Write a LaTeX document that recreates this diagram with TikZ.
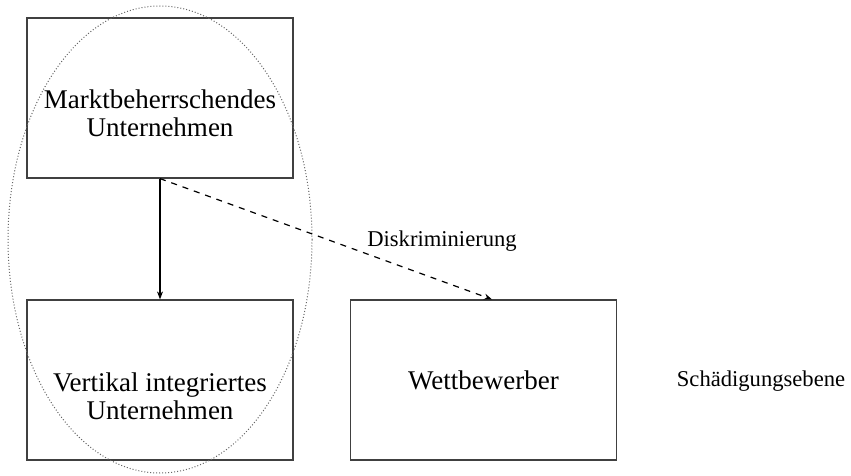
\documentclass[tikz,border=0pt]{standalone}
\usepackage{fontspec}
\setmainfont{Liberation Serif}
\usepackage{tikz}
\usetikzlibrary{arrows.meta}

\tikzset{
  box/.style={draw=black!75, line width=0.6pt, minimum width=133pt, minimum height=80pt, inner sep=0pt},
  boxtext/.style={align=center, font=\fontsize{13.5}{13.8}\selectfont},
  smalltext/.style={font=\fontsize{11.3}{13}\selectfont},
  arr/.style={-{Stealth[length=4pt,width=3pt]}, line width=0.6pt}
}

\begin{document}
\begin{tikzpicture}[x=0.5pt, y=-0.5pt]
  \useasboundingbox (0,0) rectangle (851,476);

  % Boxes
  \node[box] (markt) at (160,98) {};
  \node[boxtext] (marktlabel) at ([yshift=-7.5pt]markt.center) {Marktbeherrschendes\\Unternehmen};

  \node[box] (vert) at (160,380) {};
  \node[boxtext] (vertlabel) at ([yshift=-8pt]vert.center) {Vertikal integriertes\\Unternehmen};

  \node[box, boxtext] (wett) at (483.5,380) {Wettbewerber};

  % Ellipse round the integrated firm
  \draw[black!60, densely dotted, line width=0.5pt] (160,239.5) ellipse (152 and 233.5);

  % Arrows
  \draw[arr] (markt.south) -- (vert.north);
  \draw[arr, dashed] (markt.south) -- ([xshift=4.25pt]wett.north);

  % Labels
  \node[smalltext] (diskr) at (442,241) {Diskriminierung};
  \node[smalltext] (ebene) at (761,381) {Schädigungsebene};
\end{tikzpicture}
\end{document}
